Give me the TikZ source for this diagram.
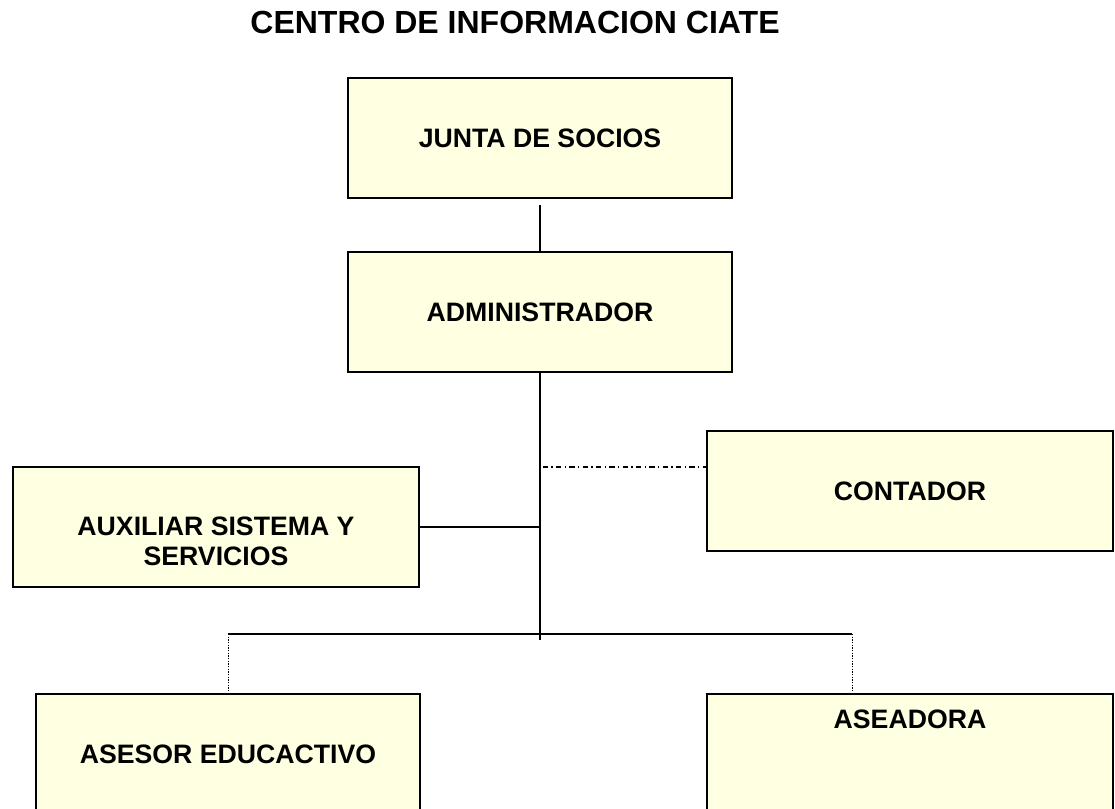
\documentclass[tikz,border=0pt]{standalone}
\usepackage{fontspec}
\setmainfont{Liberation Sans}
\usetikzlibrary{positioning, calc}
\definecolor{boxYellow}{RGB}{255, 255, 226}

\begin{document}
\begin{tikzpicture}[x=0.75pt, y=-0.75pt,
          box/.style={draw, line width=1.5pt, fill=boxYellow, minimum width=288pt,
                      minimum height=90pt, align=center,
                      font=\fontsize{20}{22.5}\selectfont\bfseries},
          widebox/.style={box, minimum width=305pt},
          txt/.style={align=center, font=\fontsize{20}{22.5}\selectfont\bfseries},
          link/.style={line width=0.9pt},
          dotlink/.style={line width=0.6pt, dash pattern=on 1pt off 1pt},
          dashdot/.style={line width=0.9pt, dash pattern=on 4pt off 2.5pt on 1pt off 2.5pt}
        ]
        \useasboundingbox (0,0) rectangle (1115,809);
        \clip (0,0) rectangle (1115,809);

        \node[txt, font=\fontsize{24}{28}\selectfont\bfseries] (title) at (515,22)
              {CENTRO DE INFORMACION CIATE};

        \node[box] (junta) at (540,138) {JUNTA DE SOCIOS};
        \node[box] (admin) at (540,312) {ADMINISTRADOR};
        \node[widebox] (aux) at (216,527) {};
        \node[txt] (auxText) at ([yshift=-10.5pt]aux.center) {AUXILIAR SISTEMA Y\\SERVICIOS};
        \node[widebox] (contador) at (910,491) {CONTADOR};
        \node[box] (asesor) at (228,754) {ASESOR EDUCACTIVO};
        \node[widebox] (aseadora) at (910,754) {};
        \node[txt] (aseadoraText) at ([yshift=-19.5pt]aseadora.north) {ASEADORA};

        \coordinate (spineEnd) at (540,640);
        \coordinate (contTap)  at (540,467);
        \coordinate (busL)     at (228,634);
        \coordinate (busR)     at (852,634);

        \draw[link]    ([yshift=-4.5pt]junta.south) -- (admin.north);
        \draw[link]    (admin.south) -- (spineEnd);
        \draw[dashdot] ([xshift=2pt]contTap) -- (contTap -| contador.west);
        \draw[link]    (aux.east) -- (aux.east -| spineEnd);
        \draw[link]    (busL) -- (busR);
        \draw[dotlink] (busL) -- (asesor.north);
        \draw[dotlink] (busR) -- (busR |- aseadora.north);
      \end{tikzpicture}
\end{document}
